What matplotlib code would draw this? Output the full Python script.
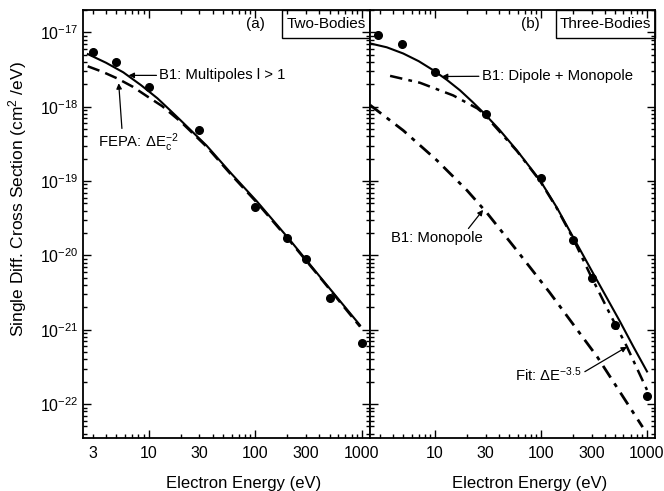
import numpy as np
import matplotlib
matplotlib.use('Agg')
import matplotlib.pyplot as plt
from matplotlib.ticker import FixedLocator, LogLocator, FuncFormatter, NullFormatter
from matplotlib.patches import Rectangle

plt.rcParams['font.family'] = ['Liberation Sans', 'DejaVu Sans']
plt.rcParams['mathtext.fontset'] = 'custom'
plt.rcParams['mathtext.rm'] = 'Liberation Sans'
plt.rcParams['mathtext.it'] = 'Liberation Sans:italic'

# ---- (a) two-bodies ----
E_pts_a = [3, 5, 10, 30, 100, 200, 300, 500, 1000]
sig_pts_a = [5.4e-18, 4.0e-18, 1.83e-18, 4.8e-19, 4.5e-20, 1.7e-20, 8.9e-21, 2.66e-21, 6.6e-22]

E_b1_a = [2.7, 4.0, 5.8, 8.5, 12.1, 15.5, 19.9, 35, 60, 104, 212, 432, 960]
sig_b1_a = [5.1e-18, 3.9e-18, 2.9e-18, 1.95e-18, 1.3e-18, 9.3e-19, 6.6e-19, 3.0e-19,
            1.25e-19, 5.3e-20, 1.6e-20, 4.6e-21, 1.15e-21]

E_fepa_a = [2.69, 3.7, 5.1, 7.1, 9.7, 13.4, 20, 35, 60, 104, 212, 432, 960]
sig_fepa_a = [3.5e-18, 2.95e-18, 2.4e-18, 1.86e-18, 1.38e-18, 1.02e-18, 6.3e-19, 2.9e-19,
              1.2e-19, 5.1e-20, 1.55e-20, 4.5e-21, 1.1e-21]

# ---- (b) three-bodies ----
E_pts_b = [2.9, 4.9, 10, 30, 100, 200, 300, 500, 1000]
sig_pts_b = [9.1e-18, 6.9e-18, 2.9e-18, 8.0e-19, 1.1e-19, 1.6e-20, 4.9e-21, 1.15e-21, 1.3e-22]

E_dm_b = [2.44, 3.5, 5.0, 7.0, 9.6, 12.9, 17.2, 22.4, 28.4, 40, 59, 98, 141, 200, 309, 400, 556, 740, 1000]
sig_dm_b = [7.1e-18, 6.3e-18, 5.2e-18, 4.1e-18, 3.1e-18, 2.3e-18, 1.66e-18, 1.17e-18, 8.4e-19,
            5.0e-19, 2.6e-19, 1.02e-19, 4.4e-20, 1.78e-20, 5.8e-21, 3.0e-21, 1.29e-21, 6.0e-22, 2.75e-22]

E_fit_b = [3.76, 7.2, 14.8, 25, 28.4, 59, 98, 141, 200, 288, 450, 647, 1000]
sig_fit_b = [2.6e-18, 2.1e-18, 1.42e-18, 9.5e-19, 8.2e-19, 2.55e-19, 1.0e-19, 4.3e-20,
             1.7e-20, 5.7e-21, 1.6e-21, 5.9e-22, 1.55e-22]

E_mono_b = [2.44, 5, 10.4, 20, 31, 59, 120, 340, 910]
sig_mono_b = [1.05e-18, 4.8e-19, 1.9e-19, 7.5e-20, 3.7e-20, 1.17e-20, 3.2e-21, 4.3e-22, 4.9e-23]

y_decades = [1e-22, 1e-21, 1e-20, 1e-19, 1e-18, 1e-17]
xlim = (2.43, 1190)
ylim = (3.5e-23, 2e-17)

fig = plt.figure(figsize=(6.64, 4.91), dpi=100)
axa = fig.add_axes([83/664, 1-438/491, 287/664, 428/491])
axb = fig.add_axes([370/664, 1-438/491, 285/664, 428/491])


def style(ax, xlabels):
    ax.set_xscale('log')
    ax.set_yscale('log')
    ax.set_xlim(*xlim)
    ax.set_ylim(*ylim)
    ax.xaxis.set_major_locator(FixedLocator([10, 100, 1000]))
    ax.xaxis.set_minor_locator(LogLocator(base=10, subs=np.arange(2, 10)))
    ax.xaxis.set_major_formatter(FuncFormatter(lambda v, p: '%d' % round(v)))
    ax.xaxis.set_minor_formatter(FuncFormatter(
        lambda v, p: '%d' % round(v) if round(v) in xlabels else ''))
    ax.yaxis.set_major_locator(FixedLocator(y_decades))
    ax.yaxis.set_minor_locator(LogLocator(base=10, subs=np.arange(2, 10)))
    ax.yaxis.set_minor_formatter(NullFormatter())
    ax.tick_params(which='both', direction='in', top=True, right=True, width=1)
    ax.tick_params(which='major', length=6)
    ax.tick_params(which='minor', length=3)
    ax.tick_params(axis='x', which='both', labelsize=11.5, pad=6)
    ax.tick_params(axis='y', which='both', labelsize=11.5, pad=3)
    for s in ax.spines.values():
        s.set_linewidth(1.3)
    ax.set_xlabel('Electron Energy (eV)', fontsize=12)


style(axa, [3, 30, 300])
style(axb, [30, 300])
axa.yaxis.set_major_formatter(FuncFormatter(
    lambda v, p: r'$\mathregular{10^{%d}}$' % round(np.log10(v))))
axb.yaxis.set_major_formatter(NullFormatter())
axa.xaxis.set_label_coords((244-83)/287, -0.088)
axb.xaxis.set_label_coords((530-370)/285, -0.088)

# panel (a)
axa.plot(E_fepa_a, sig_fepa_a, color='k', lw=1.8, ls=(0, (5, 2.5)))
axa.plot(E_b1_a, sig_b1_a, color='k', lw=1.5)
axa.plot(E_pts_a, sig_pts_a, 'o', color='k', ms=5.5)

# panel (b)
axb.plot(E_mono_b, sig_mono_b, color='k', lw=2.0, ls=(0, (5, 2.5, 1.5, 2.5)))
axb.plot(E_fit_b, sig_fit_b, color='k', lw=1.8, ls=(0, (5, 2.5, 1.5, 2.5)))
axb.plot(E_dm_b, sig_dm_b, color='k', lw=1.5)
axb.plot(E_pts_b, sig_pts_b, 'o', color='k', ms=5.5)

arrow = dict(arrowstyle='-|>', color='k', lw=0.9, mutation_scale=8, shrinkA=0, shrinkB=0)
fs = 10.7

axa.annotate('B1: Multipoles l > 1', xy=(6.5, 2.64e-18), xytext=(12.6, 2.64e-18),
             fontsize=fs, va='center', ha='left', arrowprops=arrow)
axa.annotate(r'FEPA: $\mathregular{\Delta E_c^{-2}}$', xy=(5.25, 2.07e-18), xytext=(8.0, 3.3e-19),
             fontsize=fs, va='center', ha='center',
             arrowprops=dict(arrow, relpos=(0.3, 1.0)))
axb.annotate('B1: Dipole + Monopole', xy=(11.6, 2.55e-18), xytext=(27.5, 2.6e-18),
             fontsize=fs, va='center', ha='left', arrowprops=arrow)
axb.annotate('B1: Monopole', xy=(28.4, 4.1e-20), xytext=(10.4, 1.7e-20),
             fontsize=fs, va='center', ha='center',
             arrowprops=dict(arrow, relpos=(0.82, 1.0)))
axb.annotate(r'Fit: $\mathregular{\Delta E^{-3.5}}$', xy=(647, 5.9e-22), xytext=(57, 2.45e-22),
             fontsize=fs, va='center', ha='left',
             arrowprops=dict(arrow, relpos=(1.0, 0.6)))

# panel tags
for ax, tag, name, x0, xt in [(axa, '(a)', 'Two-Bodies', (282-83)/287, (255-83)/287),
                              (axb, '(b)', 'Three-Bodies', (556-370)/285, (530-370)/285)]:
    ax.add_patch(Rectangle((x0, 1-28/428), 1-x0, 28/428, transform=ax.transAxes,
                           fill=False, ec='k', lw=1.0, clip_on=False))
    ax.text((x0+1)/2, 1-14/428, name, transform=ax.transAxes, fontsize=11,
            ha='center', va='center')
    ax.text(xt, 1-14/428, tag, transform=ax.transAxes, fontsize=11,
            ha='center', va='center')

fig.text(18/664, 1-199/491, r'Single Diff. Cross Section (cm$^{\mathregular{2}}$ /eV)',
         rotation=90, ha='center', va='center', fontsize=12.5)

fig.savefig('out.png', dpi=100)
